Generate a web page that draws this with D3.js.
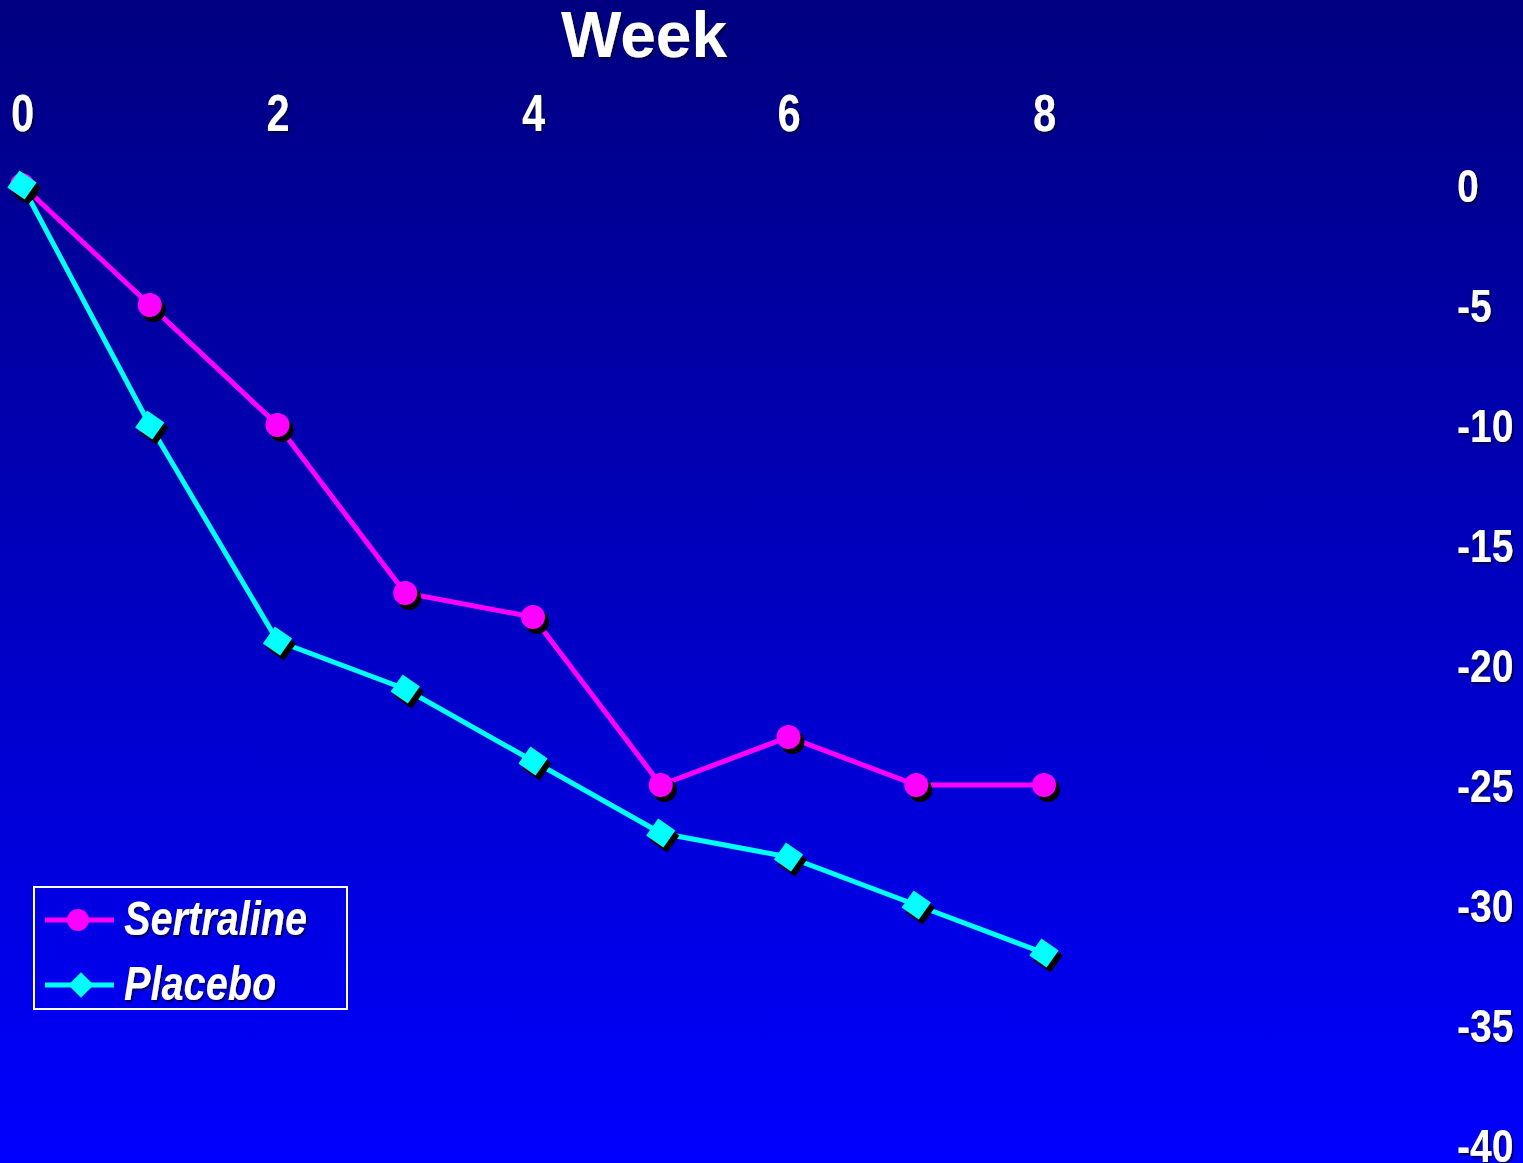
<!DOCTYPE html>
<html>
<head>
<meta charset="utf-8">
<script src="https://cdn.jsdelivr.net/npm/d3@7"></script>
<style>
  html, body { margin: 0; padding: 0; overflow: hidden; }
  svg { display: block; }
  .tick text { fill: #fff; font-weight: bold; font-family: "Liberation Sans", Arial, sans-serif; }
</style>
</head>
<body>
<div id="chart"></div>
<script>
// data
var weeks = [0, 1, 2, 3, 4, 5, 6, 7, 8];
var sertraline = [0, -5, -10, -17, -18, -25, -23, -25, -25];
var placebo = [0, -10, -19, -21, -24, -27, -28, -30, -32];
var xTicks = [0, 2, 4, 6, 8];
var yTicks = [0, -5, -10, -15, -20, -25, -30, -35, -40];
var seriesNames = ["Sertraline", "Placebo"];

var width = 1523, height = 1163;

var svg = d3.select("#chart")
    .append("svg")
    .attr("width", width)
    .attr("height", height);

var defs = svg.append("defs");

// background gradient, dark navy at top to pure blue at bottom
var grad = defs.append("linearGradient")
    .attr("id", "bg")
    .attr("x1", 0).attr("y1", 0).attr("x2", 0).attr("y2", 1);
grad.append("stop").attr("offset", "0%").attr("stop-color", "#000080");
grad.append("stop").attr("offset", "100%").attr("stop-color", "#0000ff");

// soft text shadow
var shadow = defs.append("filter")
    .attr("id", "txtShadow")
    .attr("x", "-20%").attr("y", "-20%").attr("width", "140%").attr("height", "140%");
shadow.append("feDropShadow")
    .attr("dx", 2).attr("dy", 2).attr("stdDeviation", 0.8)
    .attr("flood-color", "#000033").attr("flood-opacity", 0.8);

svg.append("rect")
    .attr("width", width)
    .attr("height", height)
    .attr("fill", "url(#bg)");

// scales
var xScale = d3.scaleLinear().domain([0, 8]).range([22, 1044]);
var yScale = d3.scaleLinear().domain([0, -40]).range([185, 1145]);

// plain hyphen instead of unicode minus, like the original
var fmt = function(d) { return String(d); };

// axes: x on top, y on the right
var xAxis = d3.axisTop(xScale).tickValues(xTicks).tickSize(0).tickFormat(fmt);
var yAxis = d3.axisRight(yScale).tickValues(yTicks).tickSize(0).tickFormat(fmt);

var gx = svg.append("g")
    .attr("transform", "translate(0,131)")
    .call(xAxis);
gx.select(".domain").remove();
// condensed look: squeeze the glyphs horizontally
gx.selectAll(".tick text")
    .attr("y", 0)
    .attr("dy", 0)
    .attr("transform", "scale(0.8,1)")
    .style("font-size", "52px")
    .attr("filter", "url(#txtShadow)");

var gy = svg.append("g")
    .attr("transform", "translate(1457,0)")
    .call(yAxis);
gy.select(".domain").remove();
gy.selectAll(".tick text")
    .attr("x", 0)
    .attr("dy", "0.36em")
    .attr("text-anchor", "start")
    .attr("transform", "scale(0.85,1)")
    .style("font-size", "46px")
    .attr("filter", "url(#txtShadow)");

// title
svg.append("text")
    .attr("x", 644)
    .attr("y", 57)
    .attr("text-anchor", "middle")
    .attr("fill", "#fff")
    .attr("font-family", "'Liberation Sans', Arial, sans-serif")
    .attr("font-weight", "bold")
    .attr("font-size", "64px")
    .attr("filter", "url(#txtShadow)")
    .text("Week");

var line = d3.line()
    .x(function(d) { return xScale(d.week); })
    .y(function(d) { return yScale(d.value); });

function toPoints(values) {
    return weeks.map(function(w, i) { return {week: w, value: values[i]}; });
}

var sData = toPoints(sertraline);
var pData = toPoints(placebo);

// lines
svg.append("path")
    .datum(sData)
    .attr("fill", "none")
    .attr("stroke", "#ff00ff")
    .attr("stroke-width", 5)
    .attr("d", line);

svg.append("path")
    .datum(pData)
    .attr("fill", "none")
    .attr("stroke", "#00ffff")
    .attr("stroke-width", 5)
    .attr("d", line);

// square marker path (side s), rotated when placed
function squarePath(s) {
    var h = s / 2;
    return "M" + (-h) + "," + (-h) + "H" + h + "V" + h + "H" + (-h) + "Z";
}

// sertraline markers: circles with black shadow
var sMarks = svg.append("g").selectAll("g")
    .data(sData)
    .enter()
    .append("g")
    .attr("transform", function(d) { return "translate(" + xScale(d.week) + "," + yScale(d.value) + ")"; });
sMarks.append("circle").attr("cx", 4).attr("cy", 5).attr("r", 12).attr("fill", "#000");
sMarks.append("circle").attr("r", 12).attr("fill", "#ff00ff");

// placebo markers: tilted squares with black shadow
var pMarks = svg.append("g").selectAll("g")
    .data(pData)
    .enter()
    .append("g")
    .attr("transform", function(d) { return "translate(" + xScale(d.week) + "," + yScale(d.value) + ")"; });
pMarks.append("path")
    .attr("d", squarePath(21))
    .attr("transform", "translate(4,5) rotate(35)")
    .attr("fill", "#000");
pMarks.append("path")
    .attr("d", squarePath(21))
    .attr("transform", "rotate(35)")
    .attr("fill", "#00ffff");

// legend
var legend = svg.append("g");
legend.append("rect")
    .attr("x", 34)
    .attr("y", 887)
    .attr("width", 313)
    .attr("height", 122)
    .attr("fill", "none")
    .attr("stroke", "#fff")
    .attr("stroke-width", 2);

var legColors = ["#ff00ff", "#00ffff"];
var legRows = legend.selectAll("g.row")
    .data(seriesNames)
    .enter()
    .append("g")
    .attr("class", "row")
    .attr("transform", function(d, i) { return "translate(0," + (920 + i * 65) + ")"; });

legRows.append("line")
    .attr("x1", 45).attr("x2", 114)
    .attr("y1", 0).attr("y2", 0)
    .attr("stroke", function(d, i) { return legColors[i]; })
    .attr("stroke-width", 5);

legRows.filter(function(d, i) { return i === 0; })
    .append("circle")
    .attr("cx", 78).attr("r", 11)
    .attr("fill", "#ff00ff");

legRows.filter(function(d, i) { return i === 1; })
    .append("path")
    .attr("d", squarePath(18))
    .attr("transform", "translate(81,0) rotate(45)")
    .attr("fill", "#00ffff");

legRows.append("g")
    .attr("transform", "translate(124,15) scale(0.81,1)")
    .append("text")
    .attr("fill", "#fff")
    .attr("font-family", "'Liberation Sans', Arial, sans-serif")
    .attr("font-weight", "bold")
    .attr("font-style", "italic")
    .attr("font-size", "49px")
    .attr("filter", "url(#txtShadow)")
    .text(function(d) { return d; });
</script>
</body>
</html>
